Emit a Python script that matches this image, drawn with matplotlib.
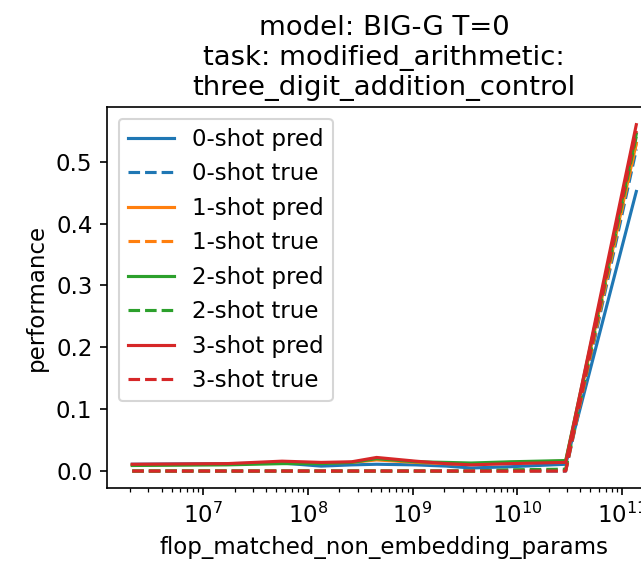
import matplotlib
matplotlib.use("Agg")
import matplotlib.pyplot as plt
import numpy as np

plt.rcParams['font.size'] = 11

# BIG-G model sizes (non-embedding params)
params = np.array([2.1e6, 1.68e7, 5.66e7, 1.34e8, 2.62e8, 4.53e8, 1.07e9, 2.1e9,
                   3.62e9, 8.59e9, 2.9e10, 1.37e11])

pred_0shot = [0.011, 0.012, 0.013, 0.008, 0.010, 0.011, 0.010, 0.008, 0.005, 0.007, 0.011, 0.452]
pred_1shot = [0.010, 0.011, 0.014, 0.013, 0.014, 0.018, 0.014, 0.012, 0.011, 0.014, 0.016, 0.530]
pred_2shot = [0.009, 0.010, 0.012, 0.012, 0.014, 0.020, 0.015, 0.014, 0.013, 0.015, 0.017, 0.545]
pred_3shot = [0.011, 0.012, 0.016, 0.014, 0.015, 0.022, 0.016, 0.012, 0.010, 0.012, 0.014, 0.560]

true_0shot = [0, 0, 0, 0, 0, 0, 0, 0, 0, 0, 0, 0.520]
true_1shot = [0, 0, 0, 0, 0, 0, 0, 0, 0, 0, 0.001, 0.530]
true_2shot = [0, 0, 0, 0, 0, 0, 0, 0, 0, 0.002, 0.003, 0.541]
true_3shot = [0, 0, 0, 0, 0, 0, 0, 0, 0, 0, 0, 0.550]

preds = [pred_0shot, pred_1shot, pred_2shot, pred_3shot]
trues = [true_0shot, true_1shot, true_2shot, true_3shot]
colors = ['tab:blue', 'tab:orange', 'tab:green', 'tab:red']

fig = plt.figure(figsize=(641 / 150, 562 / 150), dpi=150)
ax = fig.add_axes([0.167, 0.131, 0.865, 0.678])

for k in range(4):
    ax.plot(params, preds[k], color=colors[k], linestyle='-', label=f'{k}-shot pred')
    ax.plot(params, trues[k], color=colors[k], linestyle='--', label=f'{k}-shot true')

ax.set_xscale('log')
ax.set_title('model: BIG-G T=0\ntask: modified_arithmetic:\nthree_digit_addition_control')
ax.set_xlabel('flop_matched_non_embedding_params')
ax.set_ylabel('performance')
ax.legend(loc='upper left')

fig.savefig('out.png', dpi=150)
